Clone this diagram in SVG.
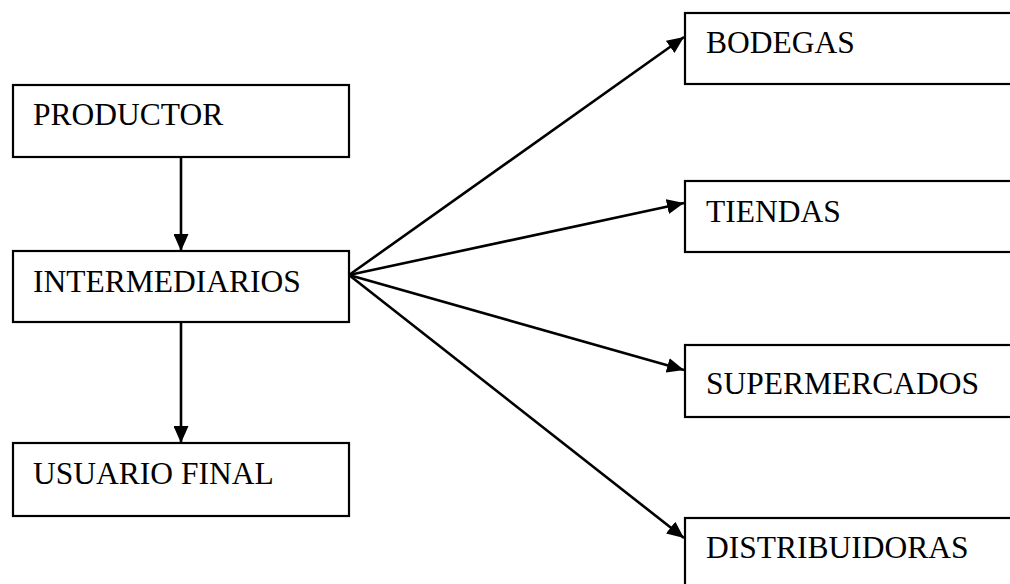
<svg xmlns="http://www.w3.org/2000/svg" width="1010" height="584" viewBox="0 0 1010 584">
  <style>
    .box { fill: #ffffff; stroke: #000000; stroke-width: 2.2; }
    .label { font-family: "Liberation Serif", "Times New Roman", serif; font-size: 31.5px; fill: #000000; }
    .link { fill: none; stroke: #000000; stroke-width: 2.6; marker-end: url(#arrow); }
  </style>
  <defs>
    <marker id="arrow" markerUnits="userSpaceOnUse" markerWidth="17" markerHeight="15" refX="17" refY="7.5" orient="auto">
      <path d="M0,0 L17,7.5 L0,15 z" fill="#000000"/>
    </marker>
  </defs>
  <rect width="1010" height="584" fill="#ffffff"/>

  <!-- connectors -->
  <g id="connectors">
    <line class="link" x1="181" y1="157" x2="181" y2="251"/>
    <line class="link" x1="181" y1="322" x2="181" y2="443"/>
    <line class="link" x1="349" y1="275" x2="684" y2="37"/>
    <line class="link" x1="349" y1="275" x2="684" y2="203"/>
    <line class="link" x1="349" y1="275" x2="684" y2="370"/>
    <line class="link" x1="349" y1="275" x2="684" y2="538"/>
  </g>

  <!-- left column -->
  <g id="productor">
    <rect class="box" x="13" y="85" width="336" height="72"/>
    <text class="label" x="33" y="125">PRODUCTOR</text>
  </g>
  <g id="intermediarios">
    <rect class="box" x="13" y="251" width="336" height="71"/>
    <text class="label" x="33" y="292">INTERMEDIARIOS</text>
  </g>
  <g id="usuario-final">
    <rect class="box" x="13" y="443" width="336" height="73"/>
    <text class="label" x="33" y="484">USUARIO FINAL</text>
  </g>

  <!-- right column (boxes run past the right edge) -->
  <g id="bodegas">
    <rect class="box" x="685" y="13" width="340" height="71"/>
    <text class="label" x="706" y="53">BODEGAS</text>
  </g>
  <g id="tiendas">
    <rect class="box" x="685" y="181" width="340" height="71"/>
    <text class="label" x="706" y="222">TIENDAS</text>
  </g>
  <g id="supermercados">
    <rect class="box" x="685" y="345" width="340" height="72"/>
    <text class="label" x="706" y="394">SUPERMERCADOS</text>
  </g>
  <g id="distribuidoras">
    <rect class="box" x="685" y="518" width="340" height="80"/>
    <text class="label" x="706" y="558">DISTRIBUIDORAS</text>
  </g>
</svg>
